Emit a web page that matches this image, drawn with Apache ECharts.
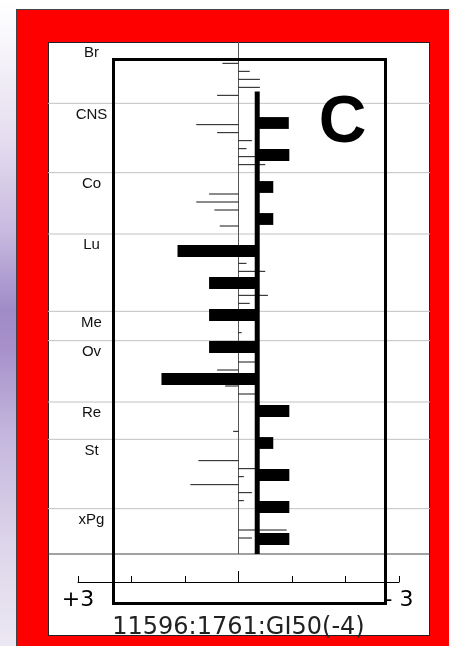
<!DOCTYPE html>
<html><head><meta charset="utf-8">
<script src="https://cdn.jsdelivr.net/npm/echarts@6/dist/echarts.min.js"></script>
<style>
html,body{margin:0;padding:0;background:#fff;overflow:hidden;width:449px;height:646px;position:relative}
#strip{position:absolute;left:0;top:0;width:17px;height:646px;
 background:linear-gradient(to bottom,#ffffff 0%,#f6f4fa 8%,#e4dcef 22%,#c7b9df 36%,#a08bc8 48%,#a891cb 54%,#c5b8de 68%,#ddd5ea 84%,#ece8f3 100%)}
#red{position:absolute;left:16px;top:9px;width:460px;height:660px;background:#ff0000;border-left:1px solid #444;border-top:1px solid #444}
#panel{position:absolute;left:48px;top:42px;width:382px;height:594px;background:#fff;border:1px solid #222;box-sizing:border-box}
#c{position:absolute;left:0;top:0;width:449px;height:646px}
</style>
</head><body>
<div id="strip"></div><div id="red"></div><div id="panel"></div>
<div id="c"></div>
<script>
// ---- data ----
const sectionNames = ['Br', 'CNS', 'Co', 'Lu', 'Me', 'Ov', 'Re', 'St', 'xPg'];
const brValues  = [0.30, -0.21, -0.40, -0.40, 0.40];
const cnsValues = [0.79, 0.40, -0.25, -0.15, -0.40, -0.50];
const coValues  = [0.55, 0.79, 0.45, 0, 0.35];
const luValues  = [0.30, -0.15, -0.50, 0.20, 0.10, -0.55, -0.21];
const meValues  = [-0.06];
const ovValues  = [-0.38, 0.40, 0.50, 0.25, -0.38];
const reValues  = [0, 0.10];
const stValues  = [0.75, -0.38, -0.10, 0.90, -0.25, -0.10];
const xpgValues = [-0.90, -0.25, 0];
const sectionValues = [brValues, cnsValues, coValues, luValues, meValues, ovValues, reValues, stValues, xpgValues];
// thick bars (drawn from the mean line), one per 32px slot; first two slots empty
const thickValues = [null, null, -0.94, -0.95, -0.65, -0.65, 1.14, 0.55, 0.55, 0.55, 1.44, -0.95, -0.65, -0.95, -0.95, -0.95];
const meanValue = -0.35;
const tickValues = [3, -3];
const tickLabels = ['+3', '- 3'];
const axisTitle = '11596:1761:GI50(-4)';
const panelLetter = 'C';

// ---- layout built from data ----
const HEADER = 8 / 3; // header gap of each panel, in row units
let offset = 0;
const sectionData = [];
const thinData = [];
sectionValues.forEach((vals, i) => {
  sectionData.push([0, offset, i]);
  vals.forEach((v, r) => thinData.push([v, offset + HEADER + r]));
  offset += HEADER + vals.length;
});
const totalRows = offset;
const thickData = [];
thickValues.forEach((v, i) => { if (v !== null) thickData.push([v, i]); });

const chart = echarts.init(document.getElementById('c'));
const labelFont = '15px "Liberation Sans", Arial, sans-serif';

chart.setOption({
  animation: false,
  backgroundColor: 'transparent',
  grid: { left: 78, width: 321, top: 42, height: 512 },
  xAxis: {
    type: 'value', min: -3, max: 3, interval: 1, inverse: true, offset: 28, position: 'bottom',
    axisLine: { onZero: false, lineStyle: { color: '#000', width: 1 } },
    axisTick: { inside: true, length: 6, lineStyle: { color: '#000', width: 1 } },
    splitLine: { show: false },
    axisLabel: {
      margin: 7, color: '#000', fontSize: 22, fontFamily: '"DejaVu Sans", sans-serif',
      formatter: v => { const i = tickValues.indexOf(v); return i >= 0 ? tickLabels[i] : ''; }
    },
    name: axisTitle, nameLocation: 'middle', nameGap: 27,
    nameTextStyle: { color: '#222', fontSize: 24, fontFamily: '"DejaVu Sans", sans-serif' }
  },
  yAxis: [
    { type: 'value', min: 0, max: totalRows, inverse: true, show: false },
    { type: 'category', data: thickValues.map((_, i) => String(i)), inverse: true, show: false, boundaryGap: true }
  ],
  graphic: [
    { type: 'rect', z: 100, shape: { x: 113.5, y: 59.5, width: 272, height: 544 },
      style: { fill: 'none', stroke: '#000', lineWidth: 3 } },
    { type: 'text', z: 101, style: { text: panelLetter, x: 342.5, y: 124,
      font: 'bold 66px "Liberation Sans", Arial, sans-serif', fill: '#000',
      textAlign: 'center', align: 'center', textVerticalAlign: 'middle', verticalAlign: 'middle' } }
  ],
  series: [
    { // panel separators + panel labels
      type: 'custom', yAxisIndex: 0, z: 1, data: sectionData, encode: { x: 0, y: 1 },
      renderItem: (params, api) => {
        const cs = params.coordSys;
        const top = api.value(1);
        const y = api.coord([0, top])[1];
        const children = [];
        if (params.dataIndex > 0) {
          children.push({ type: 'line', shape: { x1: cs.x - 30, y1: y, x2: cs.x + cs.width + 31, y2: y },
            style: { stroke: '#c2c2c2', lineWidth: 1 } });
        }
        children.push({ type: 'text', style: { text: sectionNames[params.dataIndex], x: cs.x + 13.5,
          y: api.coord([0, top + HEADER / 2])[1] + 0.5, font: labelFont, fill: '#111',
          textAlign: 'center', align: 'center', textVerticalAlign: 'middle', verticalAlign: 'middle' } });
        return { type: 'group', children };
      }
    },
    { // zero line, bottom line, centre tick
      type: 'custom', yAxisIndex: 0, z: 2, data: [[0, totalRows]], encode: { x: 0, y: 1 },
      renderItem: (params, api) => {
        const cs = params.coordSys;
        const p0 = api.coord([0, 0]);
        const p1 = api.coord([0, totalRows]);
        const bottom = cs.y + cs.height;
        return { type: 'group', children: [
          { type: 'line', shape: { x1: cs.x - 30, y1: bottom, x2: cs.x + cs.width + 31, y2: bottom },
            style: { stroke: '#444', lineWidth: 1 } },
          { type: 'line', shape: { x1: p0[0], y1: p0[1], x2: p1[0], y2: p1[1] },
            style: { stroke: '#555', lineWidth: 1 } },
          { type: 'line', shape: { x1: p0[0], y1: bottom + 17, x2: p0[0], y2: bottom + 28 },
            style: { stroke: '#000', lineWidth: 1 } }
        ] };
      }
    },
    { // thin lines from zero
      type: 'custom', yAxisIndex: 0, z: 3, data: thinData, encode: { x: 0, y: 1 },
      renderItem: (params, api) => {
        const a = api.coord([0, api.value(1)]);
        const b = api.coord([api.value(0), api.value(1)]);
        return { type: 'line', shape: { x1: a[0], y1: a[1], x2: b[0], y2: b[1] },
          style: { stroke: '#151515', lineWidth: 1 } };
      }
    },
    { // thick bars from the mean
      type: 'custom', yAxisIndex: 1, z: 4, data: thickData, encode: { x: 0, y: 1 },
      renderItem: (params, api) => {
        const idx = api.value(1);
        const m = api.coord([meanValue, idx]);
        const v = api.coord([api.value(0), idx]);
        const h = api.size([0, 1])[1] * 0.37;
        return { type: 'rect', shape: { x: Math.min(m[0], v[0]), y: m[1] - h / 2 + 1,
          width: Math.abs(v[0] - m[0]), height: h }, style: { fill: '#000' } };
      }
    },
    { // mean line
      type: 'custom', yAxisIndex: 1, z: 5, data: [[meanValue, 1]], encode: { x: 0, y: 1 },
      renderItem: (params, api) => {
        const cs = params.coordSys;
        const p = api.coord([api.value(0), api.value(1)]);
        return { type: 'rect', shape: { x: p[0] - 2.5, y: p[1] + 1.5, width: 5, height: cs.y + cs.height - p[1] - 1.5 },
          style: { fill: '#000' } };
      }
    }
  ]
});
</script>
</body></html>
